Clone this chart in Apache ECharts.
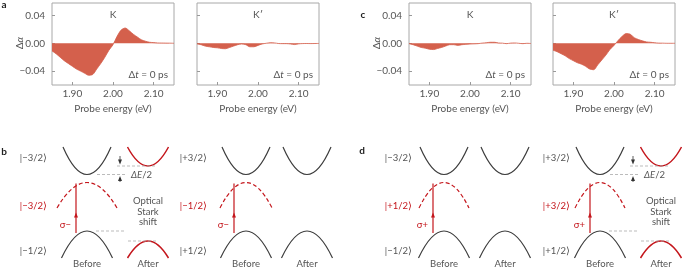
<!DOCTYPE html>
<html>
<head>
<meta charset="utf-8">
<script src="https://cdn.jsdelivr.net/npm/echarts@6/dist/echarts.min.js"></script>
<style>
  html, body { margin: 0; padding: 0; background: #fff; }
  #chart { width: 685px; height: 273px; }
</style>
</head>
<body>
<div id="chart"></div>
<script>
// probe energy (eV), shared by all four spectra
const energy = [1.85, 1.86, 1.87, 1.88, 1.89, 1.90, 1.91, 1.92, 1.93, 1.94, 1.95,
  1.96, 1.97, 1.98, 1.99, 2.00, 2.01, 2.02, 2.03, 2.04, 2.05, 2.06, 2.07, 2.08,
  2.09, 2.10, 2.11, 2.12, 2.13, 2.14, 2.15];

// delta alpha, panel a (sigma- pump) K and K'
const aK = [-0.011, -0.015, -0.020, -0.025, -0.029, -0.033, -0.037, -0.040, -0.043, -0.046,
  -0.045, -0.037, -0.029, -0.020, -0.010, -0.002, 0.010, 0.019, 0.022, 0.018,
  0.013, 0.009, 0.005, 0.003, 0.0015, 0.001, 0.0005, 0.0004, 0.0003, 0.0002, 0];
const aKp = [-0.001, -0.002, -0.004, -0.005, -0.006, -0.0065, -0.0075, -0.0078, -0.006, -0.004,
  -0.002, -0.001, -0.002, -0.005, -0.005, -0.003, -0.001, 0, 0.0008, 0.0006,
  -0.0003, -0.0005, -0.0005, -0.001, -0.0018, -0.0008, -0.0004, -0.0003, -0.0004, -0.0003, -0.0002];

// panel c (sigma+ pump) K and K'
const cK = [-0.0005, -0.002, -0.004, -0.006, -0.007, -0.0085, -0.009, -0.0075, -0.006, -0.004,
  -0.002, -0.002, -0.003, -0.002, -0.0015, -0.001, -0.0008, -0.0005, 0.0003, 0.0008,
  0.0015, 0.0015, 0.0005, 0.0002, -0.0005, 0.0003, 0.0005, 0, -0.0005, 0, -0.0003];
const cKp = [-0.010, -0.012, -0.015, -0.018, -0.022, -0.025, -0.028, -0.030, -0.033, -0.037,
  -0.038, -0.031, -0.024, -0.017, -0.009, -0.003, 0.004, 0.010, 0.014, 0.013,
  0.008, 0.0055, 0.0035, 0.002, 0.0015, 0.0008, 0.0003, 0.0002, 0, 0, 0];

const valleyNames = ['K', 'K\u2032', 'K', 'K\u2032'];
const xTicks = [1.9, 2.0, 2.1];
const yTicks = [-0.04, 0, 0.04];

const FILL = '#d4604c';
const RED = '#c4161c';
const DARK = '#3c3c3c';
const TXT = '#555';
const FONT = 'Lato';

const spectra = [aK, aKp, cK, cKp];
const lefts = [52, 197, 409, 553];
const gw = 122, gtop = 3, gh = 82;

const grids = [], xAxes = [], yAxes = [], series = [];
const graphics = [];

spectra.forEach((vals, i) => {
  grids.push({ left: lefts[i], top: gtop, width: gw, height: gh, show: true,
    borderColor: '#a8a8a8', borderWidth: 1, backgroundColor: 'transparent' });
  xAxes.push({
    type: 'value', gridIndex: i, min: 1.85, max: 2.15,
    name: 'Probe energy (eV)', nameLocation: 'middle', nameGap: 19,
    nameTextStyle: { fontFamily: FONT, fontSize: 10, color: TXT },
    axisLine: { show: false, onZero: false }, splitLine: { show: false },
    axisTick: { inside: true, length: 3, customValues: xTicks, lineStyle: { color: '#999' } },
    axisLabel: { customValues: xTicks, margin: 4, fontFamily: FONT, fontSize: 10, color: TXT,
      formatter: v => v.toFixed(2) }
  });
  const showY = i === 0 || i === 2;
  yAxes.push({
    type: 'value', gridIndex: i, min: -0.06, max: 0.058,
    axisLine: { show: false, onZero: false }, splitLine: { show: false },
    axisTick: { inside: true, length: 3, customValues: yTicks, lineStyle: { color: '#999' } },
    axisLabel: { show: showY, customValues: yTicks, margin: 7, fontFamily: FONT, fontSize: 10, color: TXT,
      formatter: v => (v < 0 ? '\u2212' : '') + Math.abs(v).toFixed(2) }
  });
  series.push({
    type: 'line', xAxisIndex: i, yAxisIndex: i,
    data: energy.map((e, k) => [e, vals[k]]),
    showSymbol: false, smooth: 0.3,
    lineStyle: { color: FILL, width: 0.8 },
    areaStyle: { color: FILL, opacity: 1 },
    silent: true
  });
  const cx = lefts[i] + gw / 2;
  graphics.push({ type: 'text', x: cx, y: 15,
    style: { text: valleyNames[i], fill: TXT, font: '10px ' + FONT, align: 'center', verticalAlign: 'middle' } });
  graphics.push({ type: 'text', x: lefts[i] + gw - 6, y: 75,
    style: { text: '{n|\u0394}{i|t}{n| = 0 ps}', align: 'right', verticalAlign: 'middle',
      rich: { n: { fill: TXT, font: '10px ' + FONT }, i: { fill: TXT, font: 'italic 10px ' + FONT } } } });
  if (showY) {
    graphics.push({ type: 'text', x: lefts[i] - 32, y: 43, rotation: Math.PI / 2,
      style: { text: '{n|\u0394}{i|\u03b1}', align: 'center', verticalAlign: 'middle',
        rich: { n: { fill: TXT, font: '10px ' + FONT }, i: { fill: TXT, font: 'italic 10px ' + FONT } } } });
  }
});

// panel letters
[['a', 4, 5], ['c', 363, 15], ['b', 4, 152], ['d', 362, 151]].forEach(([t, x, y]) => {
  graphics.push({ type: 'text', x, y,
    style: { text: t, fill: '#222', font: 'bold 10px ' + FONT, align: 'center', verticalAlign: 'middle' } });
});

// ---- level schematics (b, d) ----
function arch(cx, vy, hw, ey, color, dash, lw) {
  return { type: 'bezierCurve',
    shape: { x1: cx - hw, y1: ey, x2: cx + hw, y2: ey, cpx1: cx, cpy1: 2 * vy - ey },
    style: { stroke: color, lineWidth: lw || 1.2, fill: null, lineDash: dash ? [4, 2.5] : null } };
}
function seg(x1, y1, x2, y2, color, dash, lw) {
  return { type: 'line', shape: { x1, y1, x2, y2 },
    style: { stroke: color, lineWidth: lw || 1, lineDash: dash ? [3, 2] : null } };
}
function head(x, y, up, color) {
  const d = up ? -1 : 1;
  return { type: 'polygon', shape: { points: [[x, y + d * 4], [x - 2, y - d * 1], [x + 2, y - d * 1]] },
    style: { fill: color } };
}
function label(x, y, text, color, align, size) {
  return { type: 'text', x, y,
    style: { text, fill: color, font: (size || 9.5) + 'px ' + FONT, align: align || 'center', verticalAlign: 'middle' } };
}

const schemes = [
  { bx: 87, shifted: true, states: ['|\u22123/2\u27e9', '|\u22123/2\u27e9', '|\u22121/2\u27e9'], pump: '\u03c3\u2212', arrowX: 76, labR: 47, dashHw: 30 },
  { bx: 246, shifted: false, states: ['|+3/2\u27e9', '|\u22121/2\u27e9', '|+1/2\u27e9'], pump: '\u03c3\u2212', arrowX: 234, labR: 207, dashHw: 26 },
  { bx: 444, shifted: false, states: ['|\u22123/2\u27e9', '|+1/2\u27e9', '|\u22121/2\u27e9'], pump: '\u03c3+', arrowX: 433, labR: 412, dashHw: 25 },
  { bx: 600, shifted: true, states: ['|+3/2\u27e9', '|+3/2\u27e9', '|+1/2\u27e9'], pump: '\u03c3+', arrowX: 590, labR: 570, dashHw: 25 }
];

schemes.forEach(s => {
  const bx = s.bx, ax = bx + 61;
  graphics.push(arch(bx, 174.5, 24, 147, DARK));
  graphics.push(arch(bx, 182.5, s.dashHw, 208, RED, true));
  graphics.push(arch(bx, 231, 25.5, 258, DARK));
  graphics.push(seg(s.arrowX, 233, s.arrowX, 183.5, RED, false, 1.2));
  graphics.push(head(s.arrowX, 216.5, true, RED));
  graphics.push(label(s.labR, 158, s.states[0], TXT, 'right'));
  graphics.push(label(s.labR, 206, s.states[1], RED, 'right'));
  graphics.push(label(s.labR, 251, s.states[2], TXT, 'right'));
  graphics.push(label(s.arrowX - 5, 225, s.pump, RED, 'right'));
  graphics.push(label(bx, 264, 'Before', TXT));
  graphics.push(label(ax, 264, 'After', TXT));
  if (s.shifted) {
    graphics.push(arch(ax, 166, 20.5, 147, RED, false, 1.5));
    graphics.push(arch(ax, 241, 20.5, 258, RED, false, 1.5));
    graphics.push(seg(bx + 10, 174.5, bx + 38, 174.5, '#aaa', true, 0.8));
    graphics.push(seg(bx + 30, 166, ax + 8, 166, '#aaa', true, 0.8));
    graphics.push(seg(bx + 9, 231, bx + 38, 231, '#aaa', true, 0.8));
    graphics.push(seg(ax - 20, 241, ax + 8, 241, '#aaa', true, 0.8));
    const ar = bx + 33;
    graphics.push(seg(ar, 156, ar, 161, '#333', false, 0.8));
    graphics.push(head(ar, 160.5, false, '#333'));
    graphics.push(seg(ar, 182, ar, 178, '#333', false, 0.8));
    graphics.push(head(ar, 180, true, '#333'));
    graphics.push({ type: 'text', x: ar + 11, y: 175,
      style: { text: '{i|\u0394E}{n|/2}', align: 'left', verticalAlign: 'middle',
        rich: { n: { fill: TXT, font: '9.5px ' + FONT }, i: { fill: TXT, font: 'italic 9.5px ' + FONT } } } });
    graphics.push(label(ax, 201, 'Optical', TXT));
    graphics.push(label(ax, 211.5, 'Stark', TXT));
    graphics.push(label(ax, 222, 'shift', TXT));
  } else {
    graphics.push(arch(ax, 174.5, 24, 147, DARK));
    graphics.push(arch(ax, 231, 25.5, 258, DARK));
  }
});

const chart = echarts.init(document.getElementById('chart'), null, { renderer: 'canvas' });
chart.setOption({
  animation: false,
  grid: grids,
  xAxis: xAxes,
  yAxis: yAxes,
  series: series,
  graphic: graphics
});
</script>
</body>
</html>
